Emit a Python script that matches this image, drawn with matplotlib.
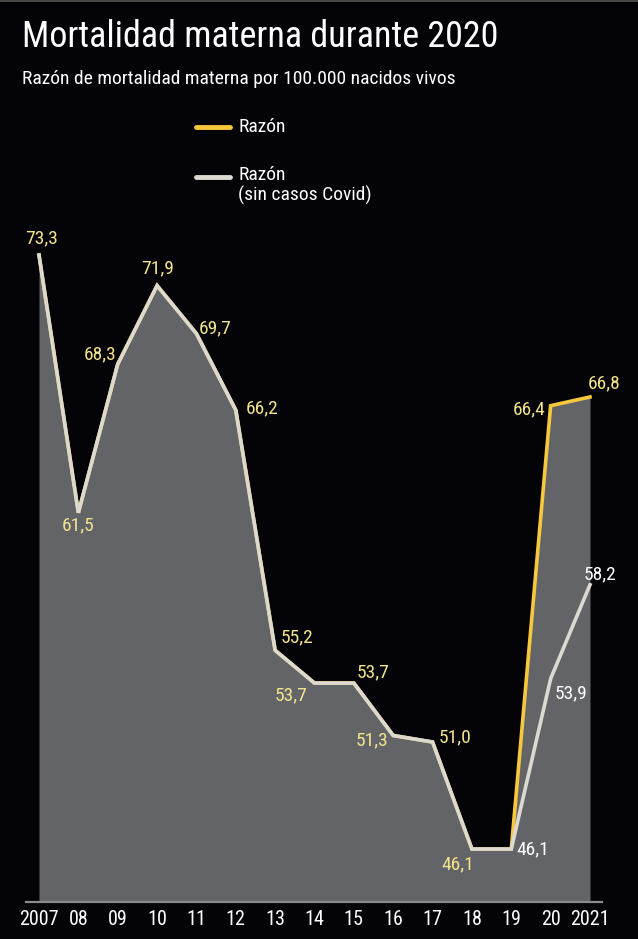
import matplotlib
matplotlib.use("Agg")
import matplotlib.pyplot as plt
from matplotlib import font_manager as fm
from matplotlib.lines import Line2D

# ---------------- data ----------------
years = [2007, 2008, 2009, 2010, 2011, 2012, 2013, 2014, 2015, 2016, 2017, 2018, 2019, 2020, 2021]
tick_labels = ["2007", "08", "09", "10", "11", "12", "13", "14", "15", "16", "17", "18", "19", "20", "2021"]
razon = [73.3, 61.5, 68.3, 71.9, 69.7, 66.2, 55.2, 53.7, 53.7, 51.3, 51.0, 46.1, 46.1, 66.4, 66.8]
razon_sin_covid = [73.3, 61.5, 68.3, 71.9, 69.7, 66.2, 55.2, 53.7, 53.7, 51.3, 51.0, 46.1, 46.1, 53.9, 58.2]
title = "Mortalidad materna durante 2020"
subtitle = "Razón de mortalidad materna por 100.000 nacidos vivos"
legend_labels = ["Razón", "Razón\n(sin casos Covid)"]

# ---------------- font ----------------
names = {f.name for f in fm.fontManager.ttflist}
stretch = "normal"
if "Roboto Condensed" in names:
    FAM = "Roboto Condensed"
elif "Liberation Sans Narrow" in names:
    FAM = "Liberation Sans Narrow"
elif any(f.name == "DejaVu Sans" and f.stretch == "condensed" for f in fm.fontManager.ttflist):
    FAM = "DejaVu Sans"
    stretch = "condensed"
else:
    FAM = "Roboto"
plt.rcParams["font.family"] = [FAM, "DejaVu Sans"]
plt.rcParams["font.stretch"] = stretch

BG = "#040408"
FILL = "#636468"
YEL = "#f7c73c"
GRAY = "#dcdad0"
LBLY = "#f3e48c"
WHITE = "#ffffff"

W, H = 638, 939
fig = plt.figure(figsize=(W / 100, H / 100), dpi=100, facecolor=BG)

def fx(px):
    return px / W

def fy(py):
    return 1 - py / H

# axes: left 26px, right 602px, top 200px, bottom 902px
ax = fig.add_axes([fx(26), fy(902), fx(602) - fx(26), fy(200) - fy(902)])
ax.set_facecolor(BG)
ppy = 551 / 14.0
ax.set_xlim(2007 - 13 / ppy, 2021 + 12 / ppy)
slope = 21.84
ax.set_ylim(73.3 - (902 - 255) / slope, 73.3 + 55 / slope)

ax.fill_between(years, razon, ax.get_ylim()[0], color=FILL, lw=0, zorder=1)
ax.plot(years, razon, color=YEL, lw=2.6, zorder=3, solid_joinstyle="miter")
ax.plot(years, razon_sin_covid, color=GRAY, lw=2.6, zorder=4, solid_joinstyle="miter")

for s in ["top", "right", "left"]:
    ax.spines[s].set_visible(False)
ax.spines["bottom"].set_color("#8c8c8c")
ax.spines["bottom"].set_linewidth(1.6)
ax.set_yticks([])
ax.set_xticks(years)
ax.set_xticklabels(tick_labels, color=WHITE, fontsize=14.5)
ax.tick_params(axis="x", length=0, pad=6)

# data labels
fs = 14
def lab(x, v, dx, dy, color):
    ax.annotate(f"{v:.1f}".replace(".", ","), (x, v), xytext=(dx * 0.72, -dy * 0.72),
                textcoords="offset points", ha="center", va="center",
                color=color, fontsize=fs, zorder=6)

offs = [(3, -17), (0, 13), (-18, -10), (0, -17), (19, -5), (26, -2), (22, -13),
        (-23, 12), (19, -11), (-21, 5), (22, -5), (-14, 15)]
for i, (dx, dy) in enumerate(offs):
    lab(years[i], razon[i], dx, dy, LBLY)
lab(years[12], razon_sin_covid[12], 21, 0, WHITE)
lab(years[13], razon[13], -22, 4, LBLY)
lab(years[14], razon[14], 14, -14, LBLY)
lab(years[13], razon_sin_covid[13], 20, 15, WHITE)
lab(years[14], razon_sin_covid[14], 10, -10, WHITE)

# title / subtitle
fig.text(fx(22), fy(37), title, color=WHITE, fontsize=26, ha="left", va="center")
fig.text(fx(22), fy(79), subtitle, color=WHITE, fontsize=14, ha="left", va="center")

# legend
fig.add_artist(Line2D([fx(196), fx(230)], [fy(127), fy(127)], color=YEL, lw=3.5,
                      solid_capstyle="round"))
fig.text(fx(238), fy(127), legend_labels[0], color=WHITE, fontsize=14, ha="left", va="center")
fig.add_artist(Line2D([fx(196), fx(230)], [fy(177), fy(177)], color=GRAY, lw=3.5,
                      solid_capstyle="round"))
fig.text(fx(238), fy(166), legend_labels[1], color=WHITE, fontsize=14, ha="left", va="top",
         linespacing=1.1)

# thin top border
fig.add_artist(Line2D([0, 1], [1 - 0.5 / H, 1 - 0.5 / H], color="#555555", lw=1.2))

fig.savefig("out.png", dpi=100, facecolor=BG)
